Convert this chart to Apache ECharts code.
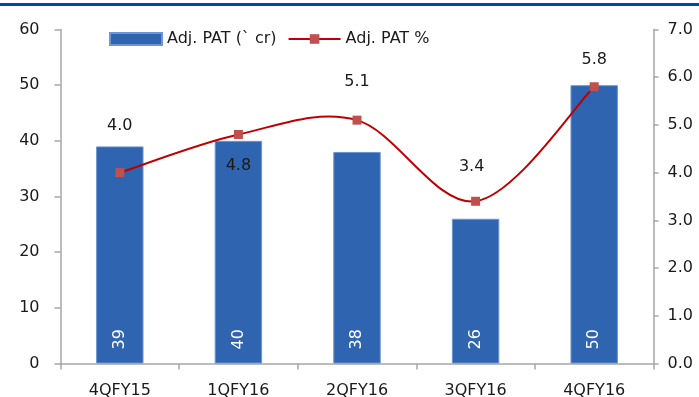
<!DOCTYPE html>
<html><head><meta charset="utf-8">
<script src="https://cdn.jsdelivr.net/npm/echarts@6/dist/echarts.min.js"></script>
<style>html,body{margin:0;padding:0;background:#fff}#c{width:699px;height:397px}</style>
</head><body><div id="c"></div>
<script>
const categories = ['4QFY15','1QFY16','2QFY16','3QFY16','4QFY16'];
const patValues = [39, 40, 38, 26, 50];
const patPct = [4.0, 4.8, 5.1, 3.4, 5.8];
const pctLabelPos = ['top','bottom','top','top','top'];
const pctLabelDist = [34, 19, 26, 22, 14];

const FONT = 'DejaVu Sans';
const chart = echarts.init(document.getElementById('c'), null, {renderer:'canvas'});
const axisLineStyle = {color:'#A6A6A6', width:1.5};

// Excel-like smoothed segment between point i and i+1 (uses axis scales via api.coord)
function renderSegment(params, api){
  const i = params.dataIndex;
  const n = patPct.length;
  if (i >= n - 1) return null;
  const P = k => api.coord([Math.max(0, Math.min(n-1, k)), patPct[Math.max(0, Math.min(n-1, k))]]);
  const p0 = P(i-1), p1 = P(i), p2 = P(i+1), p3 = P(i+2);
  const t = 1/6;
  return {
    type:'bezierCurve',
    shape:{
      x1:p1[0], y1:p1[1], x2:p2[0], y2:p2[1],
      cpx1:p1[0] + (p2[0]-p0[0])*t, cpy1:p1[1] + (p2[1]-p0[1])*t,
      cpx2:p2[0] - (p3[0]-p1[0])*t, cpy2:p2[1] - (p3[1]-p1[1])*t
    },
    style:{stroke:'#C00000', lineWidth:2, fill:null}
  };
}

chart.setOption({
  animation:false,
  textStyle:{fontFamily:FONT, color:'#1a1a1a'},
  graphic:[{type:'rect', left:0, top:3, shape:{width:699, height:3}, style:{fill:'#0047AB'}}],
  legend:{
    left:109, top:31, padding:0, itemWidth:52, itemHeight:12, itemGap:11,
    textStyle:{fontFamily:FONT, fontSize:16, color:'#1a1a1a'},
    data:[{name:'Adj. PAT (` cr)', icon:'rect'},
          {name:'Adj. PAT %', lineStyle:{color:'#C00000', width:2, opacity:1}}]
  },
  grid:{left:60.5, right:45.5, top:29.5, bottom:33.5, containLabel:false, outerBoundsMode:'none'},
  xAxis:{
    type:'category', data:categories, boundaryGap:true,
    axisLine:{lineStyle:axisLineStyle},
    axisTick:{show:true, length:6, lineStyle:axisLineStyle},
    axisLabel:{fontFamily:FONT, fontSize:16, color:'#1a1a1a', margin:19}
  },
  yAxis:[{
    type:'value', min:0, max:60, interval:10, position:'left',
    axisLine:{show:true, lineStyle:axisLineStyle},
    axisTick:{show:true, length:6, lineStyle:axisLineStyle},
    splitLine:{show:false},
    axisLabel:{fontFamily:FONT, fontSize:16, color:'#1a1a1a', margin:21}
  },{
    type:'value', min:0, max:7, interval:1, position:'right',
    axisLine:{show:true, lineStyle:axisLineStyle},
    axisTick:{show:true, length:5, lineStyle:axisLineStyle},
    splitLine:{show:false},
    axisLabel:{fontFamily:FONT, fontSize:16, color:'#1a1a1a', margin:14, formatter:v=>v.toFixed(1)}
  }],
  series:[{
    name:'Adj. PAT (` cr)', type:'bar', yAxisIndex:0, barWidth:'40%',
    data:patValues,
    itemStyle:{color:'#2E64B0', borderColor:'#6E95D2', borderWidth:1},
    label:{show:true, position:'insideBottom', rotate:90, align:'left', verticalAlign:'middle',
      distance:14, color:'#fff', fontFamily:FONT, fontSize:16}
  },{
    name:'Adj. PAT % curve', type:'custom', yAxisIndex:1, z:3,
    data:patPct.map((v,i)=>[i,v]),
    renderItem:renderSegment, silent:true
  },{
    name:'Adj. PAT %', type:'line', yAxisIndex:1, z:4,
    symbol:'rect', symbolSize:9,
    data:patPct.map((v,i)=>({value:v, label:{position:pctLabelPos[i], distance:pctLabelDist[i], offset:[i===3?-4:0,0]}})),
    lineStyle:{color:'#C00000', width:2, opacity:0},
    itemStyle:{color:'#C0504D'},
    label:{show:true, fontFamily:FONT, fontSize:16, color:'#1a1a1a', formatter:p=>p.value.toFixed(1)}
  }]
});
</script></body></html>
